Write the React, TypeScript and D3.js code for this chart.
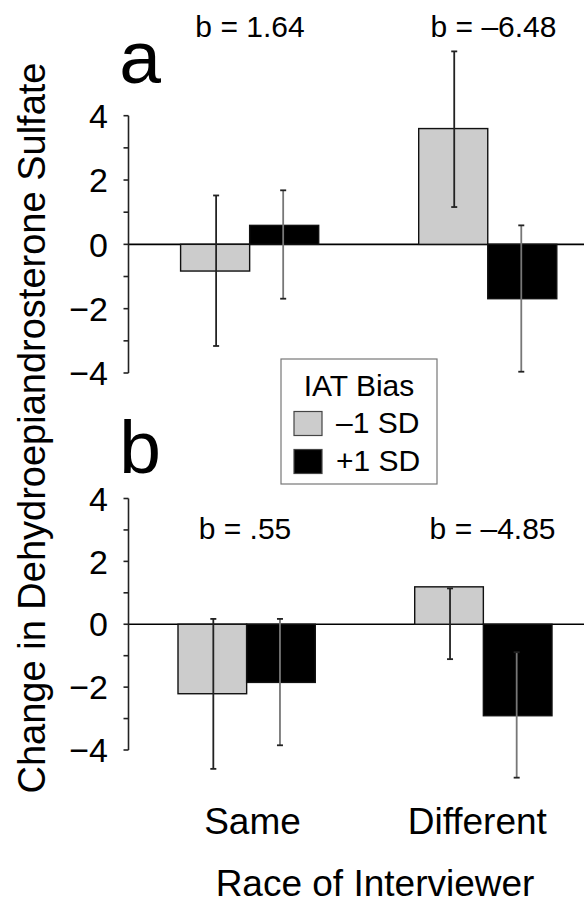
import React from "react";
import * as d3 from "d3";

const categories = ["Same", "Different"];
const seriesNames = ["–1 SD", "+1 SD"];
const seriesColors = ["#cccccc", "#000000"];

// Panel a
const aLowMean = [-0.83, 3.6];
const aHighMean = [0.59, -1.69];
const aLowHi = [1.52, 6.0];
const aLowLo = [-3.16, 1.16];
const aHighHi = [1.68, 0.59];
const aHighLo = [-1.69, -3.96];
const aSlopes = ["b = 1.64", "b = –6.48"];

// Panel b
const bLowMean = [-2.21, 1.19];
const bHighMean = [-1.85, -2.91];
const bLowHi = [0.17, 1.14];
const bLowLo = [-4.6, -1.11];
const bHighHi = [0.17, -0.89];
const bHighLo = [-3.85, -4.88];
const bSlopes = ["b = .55", "b = –4.85"];

const tickValues = [-4, -3, -2, -1, 0, 1, 2, 3, 4];
const tickLabels = ["−4", "", "−2", "", "0", "", "2", "", "4"];

const FONT = "'Liberation Sans', Arial, Helvetica, sans-serif";

type PanelProps = {
  letter: string;
  letterY: number;
  yTop: number;
  yBottom: number;
  xRange: [number, number];
  means: number[][];
  his: number[][];
  los: number[][];
  slopes: string[];
  slopeY: number;
  slopeX: number[];
};

const AXIS_X = 128.5;

function Panel(p: PanelProps) {
  const y = d3.scaleLinear().domain([-4, 4]).range([p.yBottom, p.yTop]);
  const x = d3
    .scaleBand<string>()
    .domain(categories)
    .range(p.xRange)
    .paddingInner(0.42)
    .paddingOuter(0);
  const xs = d3
    .scaleBand<string>()
    .domain(seriesNames)
    .range([0, x.bandwidth()])
    .padding(0);
  const y0 = y(0);
  return (
    <g>
      <text x={140} y={p.letterY} fontSize={75} fontFamily={FONT} textAnchor="middle">
        {p.letter}
      </text>
      {/* zero line */}
      <line x1={AXIS_X} x2={584} y1={y0} y2={y0} stroke="#000" strokeWidth={1.6} />
      {/* bars */}
      {categories.map((c, ci) =>
        seriesNames.map((s, si) => {
          const v = p.means[si][ci];
          const bx = (x(c) as number) + (xs(s) as number);
          const bw = xs.bandwidth();
          return (
            <rect
              key={c + s}
              x={bx}
              width={bw}
              y={Math.min(y(v), y0)}
              height={Math.abs(y(v) - y0)}
              fill={seriesColors[si]}
              stroke="#111"
              strokeWidth={1.4}
            />
          );
        })
      )}
      {/* error bars */}
      {categories.map((c, ci) =>
        seriesNames.map((s, si) => {
          const cx = (x(c) as number) + (xs(s) as number) + xs.bandwidth() / 2 + (si === 0 ? 1 : -1);
          const hi = y(p.his[si][ci]);
          const lo = y(p.los[si][ci]);
          const col = "#222";
          return (
            <g key={"e" + c + s} stroke={si === 1 ? "#777" : col} strokeWidth={1.8}>
              <line x1={cx} x2={cx} y1={hi} y2={lo} />
              <line x1={cx - 3} x2={cx + 3} y1={hi} y2={hi} stroke={col} />
              <line x1={cx - 3} x2={cx + 3} y1={lo} y2={lo} stroke={col} />
            </g>
          );
        })
      )}
      {/* slopes */}
      {p.slopes.map((t, i) => (
        <text key={t} x={p.slopeX[i]} y={p.slopeY} fontSize={30} fontFamily={FONT} textAnchor="middle">
          {t}
        </text>
      ))}
      {/* y axis */}
      <line x1={AXIS_X} x2={AXIS_X} y1={y(4)} y2={y(-4)} stroke="#222" strokeWidth={1.6} />
      {tickValues.map((t, i) => (
        <g key={t}>
          <line x1={AXIS_X - 5} x2={AXIS_X} y1={y(t)} y2={y(t)} stroke="#222" strokeWidth={1.6} />
          {tickLabels[i] && (
            <text
              x={108}
              y={y(t)}
              dy="0.36em"
              fontSize={34}
              fontFamily={FONT}
              textAnchor="end"
            >
              {tickLabels[i]}
            </text>
          )}
        </g>
      ))}
    </g>
  );
}

export default function App() {
  return (
    <svg
      width={584}
      height={906}
      style={{ position: "absolute", left: 0, top: 0, background: "#fff" }}
    >
      <rect width={584} height={906} fill="#fff" />
      <Panel
        letter="a"
        letterY={83}
        yTop={115.7}
        yBottom={373}
        xRange={[180.6, 556.8]}
        means={[aLowMean, aHighMean]}
        his={[aLowHi, aHighHi]}
        los={[aLowLo, aHighLo]}
        slopes={aSlopes}
        slopeY={37}
        slopeX={[250, 493.5]}
      />
      <Panel
        letter="b"
        letterY={473}
        yTop={498.5}
        yBottom={750}
        xRange={[178, 552]}
        means={[bLowMean, bHighMean]}
        his={[bLowHi, bHighHi]}
        los={[bLowLo, bHighLo]}
        slopes={bSlopes}
        slopeY={539}
        slopeX={[245, 492.6]}
      />
      {/* legend */}
      <g fontFamily={FONT}>
        <rect x={281} y={359} width={156} height={125} fill="#fff" stroke="#777" strokeWidth={1.2} />
        <text x={359} y={396} fontSize={30} textAnchor="middle">
          IAT Bias
        </text>
        {seriesNames.map((s, i) => (
          <g key={s}>
            <rect
              x={294}
              y={411.5 + i * 38}
              width={28}
              height={24}
              fill={seriesColors[i]}
              stroke="#444"
              strokeWidth={1.2}
            />
            <text x={336} y={433 + i * 38} fontSize={30}>
              {s}
            </text>
          </g>
        ))}
      </g>
      {/* x category labels */}
      {categories.map((c, i) => (
        <text
          key={c}
          x={[252.5, 477.3][i]}
          y={834}
          fontSize={37}
          fontFamily={FONT}
          textAnchor="middle"
        >
          {c}
        </text>
      ))}
      <text x={375} y={896} fontSize={37} fontFamily={FONT} textAnchor="middle">
        Race of Interviewer
      </text>
      <text
        transform="translate(45,428) rotate(-90)"
        fontSize={38}
        fontFamily={FONT}
        textAnchor="middle"
      >
        Change in Dehydroepiandrosterone Sulfate
      </text>
    </svg>
  );
}
